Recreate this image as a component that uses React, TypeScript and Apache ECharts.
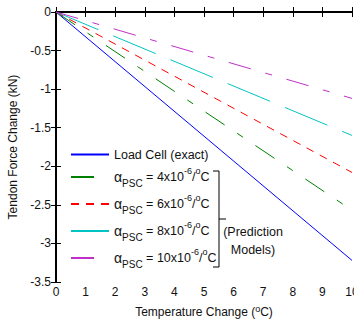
import React, { useEffect, useRef } from "react";
import * as echarts from "echarts";

// Temperature change (°C) at the start and end of each line
const tempChange = [0, 10];
// Tendon force change (kN)
const loadCell = [0, -3.22];
const psc4 = [0, -2.57];
const psc6 = [0, -2.08];
const psc8 = [0, -1.6];
const psc10 = [0, -1.12];
const alphaCoeffs = ["4", "6", "8", "10"];
const loadName = "Load Cell (exact)";
const alphaNames = alphaCoeffs.map((c) => `αPSC = ${c}x10-6/oC`);

const FONT = "'Liberation Sans', Arial, Helvetica, sans-serif";
const TXT = "#111";

const pairs = (ys: number[]) => tempChange.map((x, i) => [x, ys[i]]);

export default function App() {
  const ref = useRef<HTMLDivElement>(null);
  useEffect(() => {
    document.body.style.margin = "0";
    const chart = echarts.init(ref.current!, null, { renderer: "svg" });
    const lineDefs = [
      { name: loadName, data: loadCell, color: "#0000FF", type: "solid" as any },
      { name: alphaNames[0], data: psc4, color: "#008000", type: [23, 15, 7, 15] },
      { name: alphaNames[1], data: psc6, color: "#FF0000", type: [8, 7] },
      { name: alphaNames[2], data: psc8, color: "#00C4C4", type: [46, 16] },
      { name: alphaNames[3], data: psc10, color: "#C030C8", type: [23, 15, 7, 15] },
    ];
    const axisCommon = {
      axisLine: { show: true, lineStyle: { color: "#000", width: 2 } },
      axisTick: { show: true, inside: true, length: 5, lineStyle: { color: "#000", width: 1 } },
      splitLine: { show: false },
    };
    const option: any = {
      animation: false,
      grid: { left: 56, right: 2, top: 12, bottom: 40, containLabel: false, outerBoundsMode: "none" },
      xAxis: [
        {
          type: "value",
          min: 0,
          max: 10,
          interval: 1,
          ...axisCommon,
          axisLabel: { color: TXT, fontFamily: FONT, fontSize: 12, margin: 4 },
          name: "{t|Temperature Change (}{s|o}{t|C)}",
          nameLocation: "middle",
          nameGap: 22,
          nameTextStyle: {
            rich: {
              t: { fontFamily: FONT, fontSize: 12, color: TXT, lineHeight: 16 },
              s: { fontFamily: FONT, fontSize: 9, color: TXT, verticalAlign: "top", lineHeight: 9 },
            },
          },
        },
        {
          type: "value",
          position: "top",
          min: 0,
          max: 10,
          interval: 1,
          ...axisCommon,
          axisLabel: { show: false },
        },
      ],
      yAxis: [
        {
          type: "value",
          min: -3.5,
          max: 0,
          interval: 0.5,
          ...axisCommon,
          axisLabel: { color: TXT, fontFamily: FONT, fontSize: 12, margin: 5 },
          name: "Tendon Force Change (kN)",
          nameLocation: "middle",
          nameGap: 32,
          nameTextStyle: { color: TXT, fontFamily: FONT, fontSize: 12 },
        },
        {
          type: "value",
          position: "right",
          min: -3.5,
          max: 0,
          interval: 0.5,
          ...axisCommon,
          axisLabel: { show: false },
        },
      ],
      legend: {
        orient: "vertical",
        left: 70,
        top: 148,
        itemWidth: 38,
        itemHeight: 14,
        itemGap: 5,
        padding: 0,
        itemStyle: { opacity: 0 },
        data: [loadName, ...alphaNames],
        formatter: (name: string) => {
          if (name === loadName) return `{l|${name}}`;
          const idx = alphaNames.indexOf(name);
          const c = alphaCoeffs[idx];
          return `{a|α}{b|PSC}{t| = ${c}x10}{p|-6}{t|/}{p|o}{t|C}`;
        },
        textStyle: {
          color: TXT,
          fontFamily: FONT,
          fontSize: 12.5,
          rich: {
            l: { fontFamily: FONT, fontSize: 12.5, color: TXT, lineHeight: 14 },
            a: { fontFamily: FONT, fontSize: 14, color: TXT, lineHeight: 22 },
            t: { fontFamily: FONT, fontSize: 12.5, color: TXT, lineHeight: 22 },
            b: { fontFamily: FONT, fontSize: 10, color: TXT, lineHeight: 10, verticalAlign: "bottom" },
            p: { fontFamily: FONT, fontSize: 9, color: TXT, lineHeight: 10, verticalAlign: "top" },
          },
        },
      },
      series: lineDefs.map((d) => ({
        name: d.name,
        type: "line",
        data: pairs(d.data),
        xAxisIndex: 0,
        yAxisIndex: 0,
        symbol: "none",
        showSymbol: false,
        color: d.color,
        lineStyle: { color: d.color, width: 1, type: d.type },
        silent: true,
      })),
      graphic: [
        {
          type: "polyline",
          shape: {
            points: [
              [213, 171],
              [219, 171],
              [219, 267],
              [213, 267],
            ],
          },
          style: { stroke: "#000", lineWidth: 1, fill: "none" },
        },
        {
          type: "line",
          shape: { x1: 219, y1: 219, x2: 226, y2: 219 },
          style: { stroke: "#000", lineWidth: 1 },
        },
        {
          type: "text",
          x: 253,
          y: 241,
          style: {
            text: "(Prediction\nModels)",
            fontFamily: FONT,
            fontSize: 12.5,
            fill: TXT,
            align: "center",
            verticalAlign: "middle",
            lineHeight: 18,
          },
        },
      ],
    };
    chart.setOption(option);
    return () => chart.dispose();
  }, []);
  return <div ref={ref} style={{ width: 354, height: 322 }} />;
}
